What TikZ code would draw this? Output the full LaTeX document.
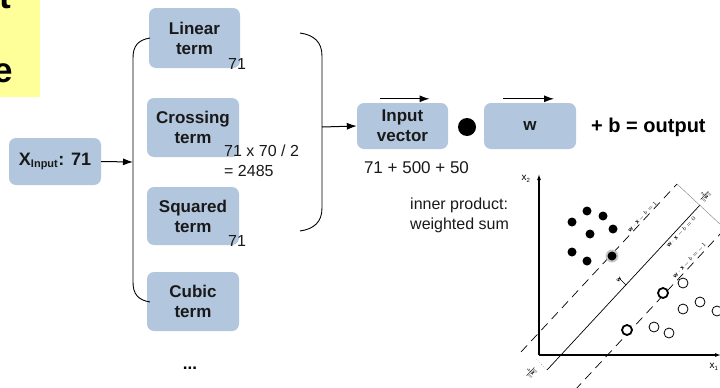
\documentclass[tikz,border=0pt]{standalone}
\usepackage{fontspec}
\setmainfont{Liberation Sans}
\usetikzlibrary{arrows.meta}
\definecolor{boxblue}{RGB}{178,198,222}
\definecolor{notey}{RGB}{255,255,153}
\definecolor{ink}{RGB}{25,25,25}
\begin{document}
\begin{tikzpicture}[x=1pt,y=-1pt,
  term/.style={fill=boxblue, rounded corners=7pt, minimum width=92pt,
    minimum height=59pt, align=center, inner sep=0pt, text=ink,
    font=\bfseries\fontsize{17}{20}\selectfont},
  num/.style={font=\fontsize{16}{20}\selectfont, inner sep=0pt, text=ink},
  arr/.style={-{Latex[length=10pt,width=7pt]}, line width=1pt},
  svmdash/.style={dash pattern=on 9pt off 6pt, line width=0.7pt},
  tinylab/.style={font=\fontsize{6}{7}\selectfont, inner sep=0.6pt, rotate=47},
  whitept/.style={draw=black, line width=0.8pt, fill=white}
]
\useasboundingbox (0,0) rectangle (720,388);

% note strip in the corner
\fill[notey] (0,0) rectangle (40,97);
\node[anchor=base east, inner sep=0pt, font=\bfseries\fontsize{35}{40}\selectfont] (ntop) at (11,9) {t};
\node[anchor=base east, inner sep=0pt, font=\bfseries\fontsize{35}{40}\selectfont] (nbot) at (13,82) {e};

% input features
\node[term, minimum width=92pt, minimum height=47pt, font=\bfseries\fontsize{18}{20}\selectfont] (xin) at (55,161.5)
  {X\textsubscript{\fontsize{11}{12}\selectfont Input}: 71};

% expanded terms
\node[term, minimum width=91pt, minimum height=60pt] (lin) at (194.5,38) {Linear\\term};
\node[term] (cross) at (193,127.5) {Crossing\\term};
\node[term, minimum height=58pt] (sq) at (193,216) {Squared\\term};
\node[term] (cub) at (193,301.5) {Cubic\\term};
\node[font=\bfseries\fontsize{17}{20}\selectfont, inner sep=0pt] (more) at (190,368) {...};

\node[num] (nlin) at (237,64) {71};
\node[num, anchor=west, align=left] (ncross) at (224,161) {71 x 70 / 2\\= 2485};
\node[num] (nsq) at (237,241) {71};

% left brace
\coordinate (lb) at (133,162);
\draw[line width=0.9pt] (150,38) .. controls (138,40) and (133,46) .. (133,58)
  -- (133,282) .. controls (133,294) and (138,300) .. (150,302);
\draw[arr] (xin.east) -- (lb);

% right brace
\coordinate (rb) at (322,127);
\draw[line width=0.9pt] (300,33) .. controls (314,35) and (322,42) .. (322,56)
  -- (322,208) .. controls (322,222) and (314,229) .. (300,231);

% inner product
\node[term, minimum width=91pt, minimum height=46pt] (inp) at (402.5,126) {Input\\vector};
\node[term, minimum width=92pt, minimum height=46pt] (wbox) at (530,126) {w};
\draw[arr] (rb) -- (inp.west);
\draw[arr] ([xshift=-23pt,yshift=4pt]inp.north) -- ([xshift=27pt,yshift=4pt]inp.north);
\draw[arr] ([xshift=-27pt,yshift=4pt]wbox.north) -- ([xshift=24pt,yshift=4pt]wbox.north);
\fill (467,127) circle (9);
\node[font=\bfseries\fontsize{20}{24}\selectfont, anchor=west, inner sep=0pt] (out) at (591,127) {+ b = output};
\node[num, font=\fontsize{17}{20}\selectfont] (dims) at (416.5,168) {71 + 500 + 50};
\node[num, anchor=west, align=left] (ip) at (410,215) {inner product:\\weighted sum};

% maximum-margin separating hyperplane
\coordinate (o) at (539,355);
\draw[line width=1.1pt, -{Latex[length=6pt,width=4pt]}] (o) -- (539,174);
\draw[line width=1.1pt, -{Latex[length=6pt,width=4pt]}] (o) -- (721,355);
\node[font=\fontsize{10}{12}\selectfont, inner sep=0pt] (x2) at (526,179) {x\textsubscript{\fontsize{6}{7}\selectfont 2}};
\node[font=\fontsize{10}{12}\selectfont, inner sep=0pt] (x1) at (714,367) {x\textsubscript{\fontsize{6}{7}\selectfont 1}};

\coordinate (s0) at (547,370);  \coordinate (s1) at (700,205);
\coordinate (u0) at (521,352);  \coordinate (u1) at (677,184);
\coordinate (l0) at (575,390);  \coordinate (l1) at (722,232);
\draw[line width=0.7pt] (s0) -- (s1);
\draw[svmdash] (u0) -- (u1);
\draw[svmdash] (l0) -- (l1);

% margin and offset dimensions
\draw[gray, line width=0.4pt] (u1) -- (722,226);
\node[tinylab, font=\fontsize{5}{6}\selectfont] (mw) at (705,196) {$\frac{2}{\|\mathbf{w}\|}$};
\draw[gray, line width=0.5pt, dotted] (536,359) -- (548,371);
\node[tinylab, font=\fontsize{5}{6}\selectfont] (mb) at (531,372) {$\frac{b}{\|\mathbf{w}\|}$};

\node[tinylab, anchor=south] (e1) at (645,219) {$\mathbf{w}\cdot\mathbf{x}-b=1$};
\node[tinylab, anchor=north] (e0) at (679,230) {$\mathbf{w}\cdot\mathbf{x}-b=0$};
\node[tinylab, anchor=south] (em) at (692,263) {$\mathbf{w}\cdot\mathbf{x}-b=-1$};
\draw[line width=0.5pt] (626,285) -- (619,278);
\node[tinylab] (wv) at (619,280) {$\mathbf{w}$};

% class +1
\fill[gray!45] (612,256) circle (6.5);
\foreach \p in {{587,211},{603,216},{572,222},{590,234},{613,229},{572,252},{587,261},{612,256}}
  \fill (\p) circle (4.5);
% class -1
\foreach \p in {{683,283},{700,302},{683,309},{717,311},{654,327},{669,333}}
  \draw[whitept] (\p) circle (5);
\foreach \p in {{663,293},{627,330}}
  \draw[whitept, line width=1.8pt] (\p) circle (5);
\end{tikzpicture}
\end{document}
